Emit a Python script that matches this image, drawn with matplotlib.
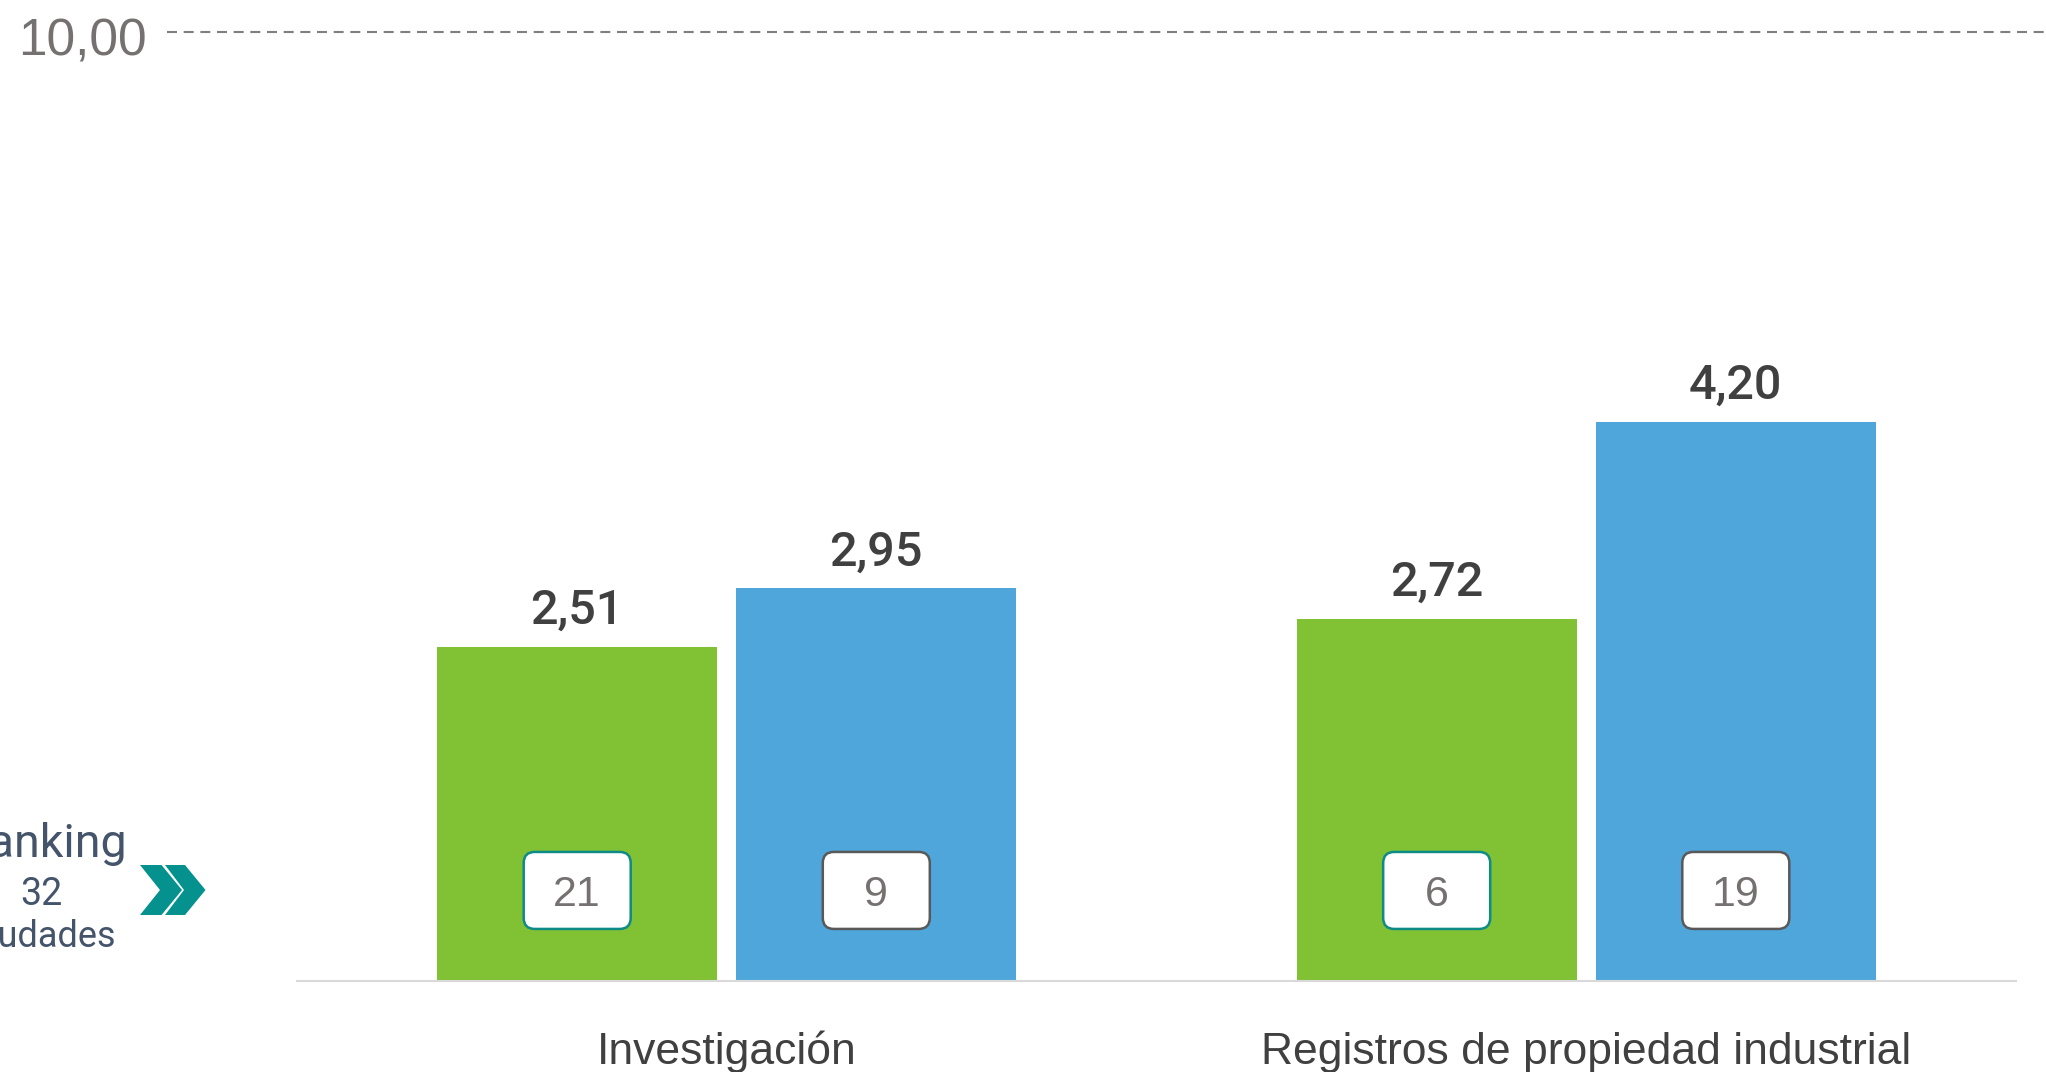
import matplotlib
matplotlib.use('Agg')
import matplotlib.pyplot as plt
from matplotlib.patches import FancyBboxPatch, Polygon
import numpy as np

categorias = ['Investigación', 'Registros de propiedad industrial']
valores_verde = [2.51, 2.72]
valores_azul = [2.95, 4.20]
ranking_verde = [21, 6]
ranking_azul = [9, 19]
total_ciudades = 32
etiqueta_max = '10,00'

verde = '#80C233'
azul = '#4FA6DB'
gris_texto = '#404040'
gris_claro = '#767171'
pizarra = '#44546A'
turquesa = '#05928E'

W, H = 2046, 1072
fig = plt.figure(figsize=(W / 100, H / 100), dpi=100)
ax = fig.add_axes([297 / W, 1 - 981 / H, (2016 - 297) / W, (981 - 32) / H])


def px(x, y):
    # pixel position (from top-left) -> figure fraction
    return x / W, 1 - y / H


x = np.arange(len(categorias))
ancho = 0.326
sep = 0.174
ax.bar(x - sep, valores_verde, ancho, color=verde)
ax.bar(x + sep, valores_azul, ancho, color=azul)
ax.set_xlim(-0.5, 1.5)
ax.set_ylim(0, 7.126)

# value labels above bars
for xs, vals in [(x - sep, valores_verde), (x + sep, valores_azul)]:
    for xi, v in zip(xs, vals):
        ax.annotate(f'{v:.2f}'.replace('.', ','), (xi, v), xytext=(0, 16.3),
                    textcoords='offset points', ha='center', va='baseline',
                    fontsize=35, color=gris_texto, family='Roboto', weight='medium')

# ranking boxes inside the bars
aspecto = (1719 / 2) / (949 / 7.126)
caja_w, caja_h, caja_y = 0.1245, 0.578, 0.68
for xs, ranks, borde in [(x - sep, ranking_verde, '#0E8A87'),
                         (x + sep, ranking_azul, '#595959')]:
    for xi, r in zip(xs, ranks):
        caja = FancyBboxPatch((xi - caja_w / 2, caja_y - caja_h / 2), caja_w, caja_h,
                              boxstyle='round,pad=0,rounding_size=0.0128',
                              mutation_aspect=aspecto, facecolor='white',
                              edgecolor=borde, linewidth=1.8, zorder=3)
        ax.add_patch(caja)
        ax.text(xi, caja_y, str(r), ha='center', va='center_baseline', fontsize=31,
                color=gris_claro, family='Liberation Sans', zorder=4)

# top reference line
ax.axhline(ax.get_ylim()[1], xmin=(167 - 297) / 1719, xmax=1.02, clip_on=False,
           color='#7F7F7F', lw=1.5, dashes=(4.8, 3.2))
fig.text(*px(147, 55), etiqueta_max, ha='right', va='baseline', fontsize=37,
         color=gris_claro, family='Liberation Sans')

for s in ['top', 'right', 'left']:
    ax.spines[s].set_visible(False)
ax.spines['bottom'].set_color('#D9D9D9')
ax.spines['bottom'].set_linewidth(1.5)
ax.set_yticks([])
ax.set_xticks(x, categorias)
ax.tick_params(axis='x', length=0, pad=59.8)
for lbl in ax.get_xticklabels():
    lbl.set_va('baseline')
    lbl.set_fontsize(32)
    lbl.set_family('Liberation Sans')
    lbl.set_color(gris_texto)

# ranking legend on the left
fig.text(*px(43, 857), 'Ranking', ha='center', va='baseline', fontsize=33.5,
         color=pizarra, family='Roboto')
fig.text(*px(41, 905), str(total_ciudades), ha='center', va='baseline', fontsize=27,
         color=pizarra, family='Roboto')
fig.text(*px(43, 947), 'ciudades', ha='center', va='baseline', fontsize=26,
         color=pizarra, family='Roboto')

chevrones = [
    [(140, 865), (161.5, 865), (182, 890), (161.5, 915), (140, 915), (160, 890)],
    [(165, 865), (185, 865), (205.5, 890), (185, 915), (165, 915), (184, 890)],
]
for pts in chevrones:
    fig.add_artist(Polygon([px(a, b) for a, b in pts], closed=True,
                           transform=fig.transFigure, facecolor=turquesa,
                           edgecolor='none'))

fig.savefig('out.png', dpi=100)
